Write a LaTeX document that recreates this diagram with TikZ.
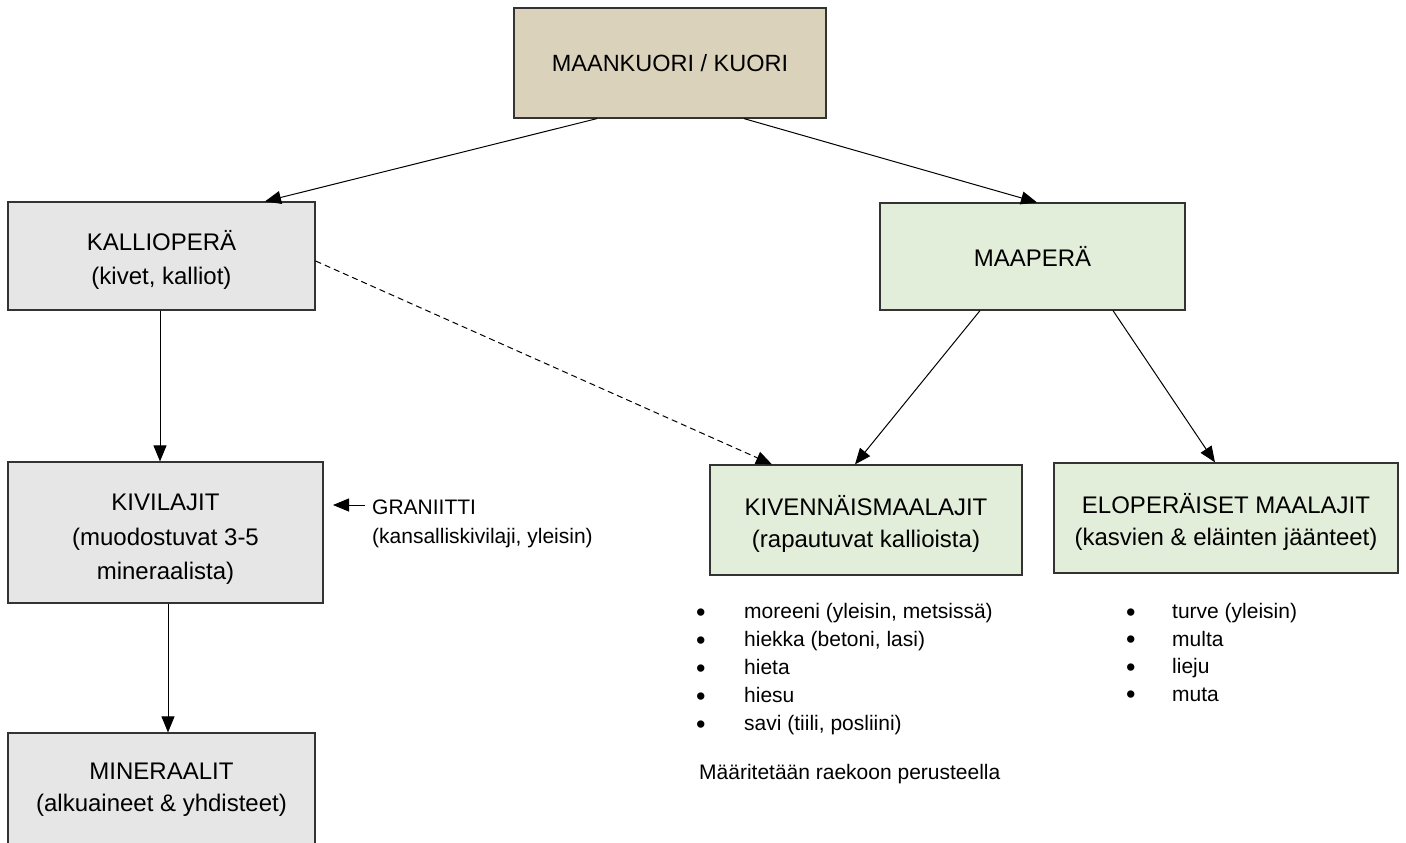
\documentclass[tikz,border=0pt]{standalone}
\usepackage{fontspec}
\setmainfont{Liberation Sans}
\usetikzlibrary{arrows.meta,calc}
\definecolor{tanfill}{HTML}{DAD2BB}
\definecolor{greyfill}{HTML}{E6E6E6}
\definecolor{greenfill}{HTML}{E2EED9}
\definecolor{edge}{HTML}{333333}
\newcommand{\mystrut}[1]{\rule{0pt}{#1pt}}
\newcommand{\mybullet}{\raisebox{-2.5pt}{\fontsize{27}{27}\selectfont •}}
\begin{document}
\begin{tikzpicture}[x=1pt,y=-1pt,
  box/.style={draw=edge,line width=1.2pt,rectangle,inner sep=0pt,align=center,font=\fontsize{24}{33}\selectfont},
  arr/.style={-{Triangle[length=16pt,width=13pt]},line width=1pt,black},
  listtxt/.style={anchor=base west,inner sep=0pt,font=\fontsize{21}{24}\selectfont}]
\useasboundingbox (0,0) rectangle (1406,843);
\clip (0,0) rectangle (1406,843);
\fill[white] (0,0) rectangle (1406,843);
\node[box,fill=tanfill,minimum width=312pt,minimum height=110pt,font=\fontsize{23.5}{30}\selectfont] (top) at (670,63) {MAANKUORI / KUORI};
\node[box,fill=greyfill,minimum width=307pt,minimum height=108pt,font=\fontsize{24}{33.5}\selectfont] (kal) at (161.5,256) {\mystrut{28}KALLIOPERÄ\\(kivet, kalliot)};
\node[box,fill=greenfill,minimum width=305pt,minimum height=107pt] (maa) at (1032.5,256.5) {MAAPERÄ};
\node[box,fill=greyfill,minimum width=315pt,minimum height=141pt,font=\fontsize{24}{34.5}\selectfont] (kiv) at (165.5,532.5) {\mystrut{30}KIVILAJIT\\(muodostuvat 3-5\\mineraalista)};
\node[box,fill=greyfill,minimum width=307pt,minimum height=114pt,font=\fontsize{24}{31.6}\selectfont] (min) at (161.5,790) {MINERAALIT\\(alkuaineet \& yhdisteet)};
\node[box,fill=greenfill,minimum width=312pt,minimum height=110pt,font=\fontsize{24}{32}\selectfont] (kvm) at (866,520) {\mystrut{28}KIVENNÄISMAALAJIT\\(rapautuvat kallioista)};
\node[box,fill=greenfill,minimum width=344pt,minimum height=110pt,font=\fontsize{24}{32}\selectfont] (elo) at (1226,518) {\mystrut{28}ELOPERÄISET MAALAJIT\\(kasvien \& eläinten jäänteet)};

\draw[arr] ([xshift=-73pt]top.south) -- ([xshift=103.5pt]kal.north);
\draw[arr] ([xshift=74pt]top.south) -- ([xshift=4.5pt]maa.north);
\draw[arr] ([xshift=-1.5pt]kal.south) -- ([xshift=-5.5pt]kiv.north);
\draw[arr] ([xshift=2.5pt]kiv.south) -- ([xshift=6.5pt]min.north);
\draw[arr,dash pattern=on 6pt off 4pt] ([yshift=-5pt]kal.east) -- ([xshift=-94pt]kvm.north);
\draw[arr] ([xshift=-52.5pt]maa.south) -- ([xshift=-11pt]kvm.north);
\draw[arr] ([xshift=80.5pt]maa.south) -- ([xshift=-11pt]elo.north);

\node[anchor=base west,inner sep=0pt,font=\fontsize{21}{30}\selectfont] (gran) at (372,514) {GRANIITTI};
\node[anchor=base west,inner sep=0pt,font=\fontsize{21}{30}\selectfont] (granb) at (372,543) {(kansalliskivilaji, yleisin)};
\coordinate (gtip) at (333,505);
\coordinate (gstart) at (365,505);
\draw[arr] (gstart) -- (gtip);

\foreach \t [count=\i] in {{moreeni (yleisin, metsissä)},{hiekka (betoni, lasi)},hieta,hiesu,{savi (tiili, posliini)}} {
  \node[listtxt] (kb\i) at (696,{618.5+28*(\i-1)}) {\mybullet};
  \node[listtxt] (kl\i) at (744,{618.5+28*(\i-1)}) {\t};
}
\node[listtxt] (mr) at (699,779) {Määritetään raekoon perusteella};
\foreach \t [count=\i] in {{turve (yleisin)},multa,lieju,muta} {
  \node[listtxt] (eb\i) at (1126,{618.5+27.5*(\i-1)}) {\mybullet};
  \node[listtxt] (el\i) at (1172,{618.5+27.5*(\i-1)}) {\t};
}
\end{tikzpicture}
\end{document}
